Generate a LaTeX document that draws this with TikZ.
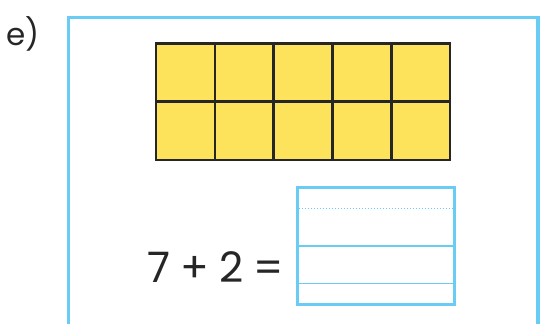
\documentclass[tikz,border=0pt]{standalone}
\usepackage{fontspec}
\setmainfont{Poppins}
\usepackage{xcolor}
\definecolor{skyline}{RGB}{104,204,245}
\definecolor{tenyellow}{RGB}{253,227,92}
\definecolor{gridgray}{RGB}{38,38,38}

\begin{document}
\begin{tikzpicture}[x=1pt,y=-1pt]
			\useasboundingbox (0,0) rectangle (540,324);
			\node[anchor=base west,inner sep=0pt,font=\fontsize{31}{31}\selectfont,text=gridgray] (part) at (6,45) {e)};
			\draw[skyline,line width=3.5pt] (68.5,324) -- (68.5,17.5) -- (538,17.5) -- (538,324);
			\fill[tenyellow] (156,43.5) rectangle (450,160);
			\foreach \x in {156,214.8,273.6,332.4,391.2,450} {\draw[gridgray,line width=2.6pt] (\x,43.5) -- (\x,160);}
			\foreach \y in {43.5,101.75,160} {\draw[gridgray,line width=2.6pt,line cap=rect] (156,\y) -- (450,\y);}
			\node[anchor=base east,inner sep=0pt,font=\fontsize{42}{42}\selectfont,text=gridgray] (sum) at (284,282.3) {7\hspace{0.24em}+\hspace{0.24em}2\hspace{0.24em}=};
			\draw[skyline,line width=3pt] (297.2,187.5) rectangle (454.2,304.2);
			\draw[skyline,line width=1pt,dotted] (298.7,208) -- (452.7,208);
			\foreach \y in {246,283.5} {\draw[skyline,line width=1.3pt] (298.7,\y) -- (452.7,\y);}
		\end{tikzpicture}
\end{document}
